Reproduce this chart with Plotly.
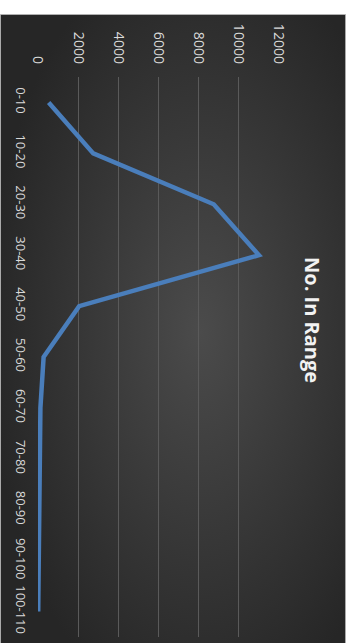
import base64
import plotly.graph_objects as go

categories = ["0-10", "10-20", "20-30", "30-40", "40-50", "50-60", "60-70",
              "70-80", "80-90", "90-100", "100-110"]
counts = [530, 2750, 8750, 11000, 2050, 280, 120, 80, 50, 30, 10]
value_ticks = [0, 2000, 4000, 6000, 8000, 10000, 12000]
title_text = "No. In Range"

W, H = 351, 643
ML, MR, MT, MB = 38, 72, 77, 6
PW = W - ML - MR
PH = H - MT - MB

svg = (
    '<svg xmlns="http://www.w3.org/2000/svg" width="400" height="700" viewBox="0 0 400 700" preserveAspectRatio="none">'
    '<defs><radialGradient id="g" cx="58%" cy="50%" r="62%">'
    '<stop offset="0%" stop-color="#4b4b4b"/>'
    '<stop offset="100%" stop-color="#262626"/>'
    '</radialGradient></defs>'
    '<rect width="400" height="700" fill="url(#g)" stroke="#bfbfbf" stroke-width="2"/></svg>'
)
src = "data:image/svg+xml;base64," + base64.b64encode(svg.encode()).decode()

def px_to_paper_x(px):
    return (px - ML) / PW

def py_to_paper_y(py):
    return (H - MB - py) / PH

fig = go.Figure()
fig.add_trace(go.Scatter(
    x=counts, y=categories, mode="lines",
    line=dict(color="#4a7ebb", width=4.5),
    hoverinfo="skip",
))

x0 = px_to_paper_x(0)
x1 = px_to_paper_x(346)
y0 = py_to_paper_y(14)
y1 = py_to_paper_y(H + 5)

fig.update_layout(
    width=W, height=H,
    margin=dict(l=ML, r=MR, t=MT, b=MB, pad=0),
    paper_bgcolor="white",
    plot_bgcolor="rgba(0,0,0,0)",
    showlegend=False,
    images=[dict(source=src, xref="paper", yref="paper",
                 x=x0, y=y0, sizex=x1 - x0, sizey=y0 - y1,
                 xanchor="left", yanchor="top", sizing="stretch",
                 layer="below")],
    xaxis=dict(
        side="top", range=[0, 12000], tickvals=value_ticks,
        ticktext=[str(v) for v in value_ticks],
        tickangle=90, showgrid=True, gridcolor="#5a5a5a", gridwidth=1,
        zeroline=False, showline=False, ticks="",
        tickfont=dict(family="Open Sans", size=14, color="#d9d9d9"),
        ticklabelstandoff=10,
    ),
    yaxis=dict(
        type="category", categoryorder="array", categoryarray=categories,
        range=[10.5, -0.5], showgrid=False, zeroline=False, showline=False,
        ticks="", tickangle=90,
        tickfont=dict(family="Open Sans", size=13, color="#d9d9d9"),
        ticklabelstandoff=8,
    ),
    annotations=[dict(
        text="<b>" + title_text + "</b>", x=px_to_paper_x(313), y=py_to_paper_y(320),
        xref="paper", yref="paper", textangle=90, showarrow=False,
        font=dict(family="Open Sans", size=20, color="#f2f2f2"),
        xanchor="center", yanchor="middle",
    )],
)

fig.write_html("out.html")
